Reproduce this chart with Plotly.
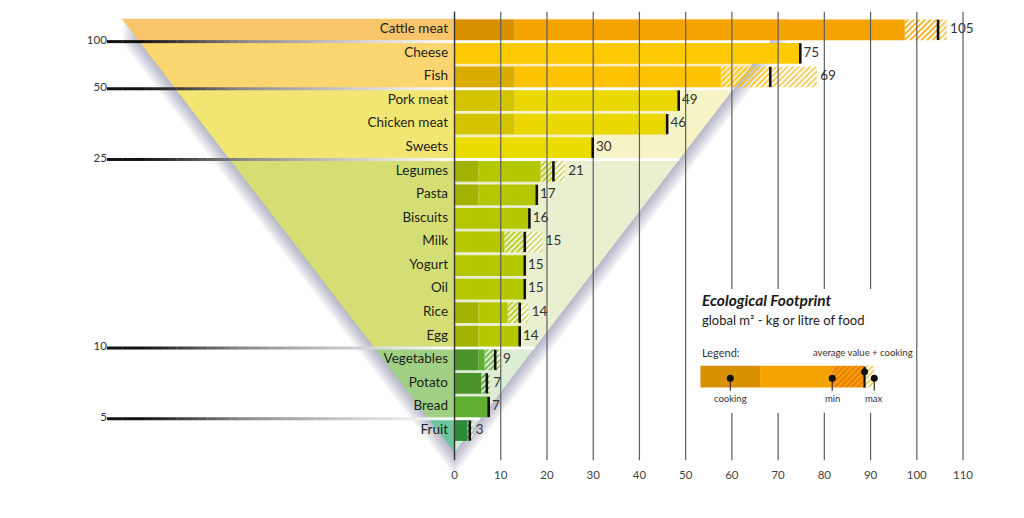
import plotly.graph_objects as go

# ---------------- data ----------------
foods = ["Cattle meat", "Cheese", "Fish", "Pork meat", "Chicken meat", "Sweets",
         "Legumes", "Pasta", "Biscuits", "Milk", "Yogurt", "Oil", "Rice", "Egg",
         "Vegetables", "Potato", "Bread", "Fruit"]
value_labels = [105, 75, 69, 49, 46, 30, 21, 17, 16, 15, 15, 15, 14, 14, 9, 7, 7, 3]
cooking = [13, 0, 13, 13, 13, 0, 5.2, 5.2, 0, 0, 0, 0, 5.2, 5.2, 5.2, 0, 0, 0]
min_val = [97.4, 74.8, 57.6, 48.5, 46.0, 29.9, 18.6, 17.8, 16.2, 10.8, 15.2, 15.2, 11.5, 14.1, 6.5, 5.8, 7.4, 2.8]
avg_val = [104.6, 74.8, 68.3, 48.5, 46.0, 29.9, 21.4, 17.8, 16.2, 15.2, 15.2, 15.2, 14.1, 14.1, 8.8, 7.0, 7.4, 3.3]
max_val = [106.5, 74.8, 78.4, 48.5, 46.0, 29.9, 23.9, 17.8, 16.2, 19.0, 15.2, 15.2, 16.0, 14.1, 9.8, 7.7, 7.4, 3.9]

ticks = [0, 10, 20, 30, 40, 50, 60, 70, 80, 90, 100, 110]
level_labels = ["100", "50", "25", "10", "5"]
level_rows = [0, 2, 5, 13, 16]          # level line lies just below these rows

legend_example = dict(start=53.2, cooking=66.1, min=81.7, avg=88.7, max=90.8)

title = "Ecological Footprint"
subtitle = "global m² - kg or litre of food"

# ---------------- styles ----------------
row_group = ["cattle", "cheese", "fish", "pork", "pork", "sweets",
             "lime", "lime", "lime", "lime", "lime", "lime", "lime", "lime",
             "veg", "potato", "bread", "fruit"]
ORG_H, ORG_L = "#E8700C", "#EEC64E"
LIM_H, LIM_L = "#5F7F10", "#CBD060"
GRN_H, GRN_L = "#22561A", "#8FB45E"
palette = {
    "cattle": dict(main="#F4A300", cook="#DA9100", hatch=ORG_H, light=ORG_L),
    "cheese": dict(main="#FDC900", cook="#E0B000", hatch=ORG_H, light=ORG_L),
    "fish":   dict(main="#FCC100", cook="#D9AD00", hatch=ORG_H, light=ORG_L),
    "pork":   dict(main="#EAD800", cook="#D3C300", hatch=ORG_H, light=ORG_L),
    "sweets": dict(main="#EBDC00", cook="#D3C300", hatch=ORG_H, light=ORG_L),
    "lime":   dict(main="#B5C700", cook="#A1B300", hatch=LIM_H, light=LIM_L),
    "veg":    dict(main="#5EAE36", cook="#4B932A", hatch=GRN_H, light=GRN_L),
    "potato": dict(main="#4B932A", cook="#4B932A", hatch=GRN_H, light=GRN_L),
    "bread":  dict(main="#5FAE2F", cook="#5FAE2F", hatch=GRN_H, light=GRN_L),
    "fruit":  dict(main="#2B8B38", cook="#2B8B38", hatch=GRN_H, light=GRN_L),
}
band_left = ["#F8C46C", "#FBD570", "#F2E672", "#D4DE74", "#9FD083", "#6DC39A"]
band_right = ["#FCE2B4", "#FDECB9", "#F6F3C6", "#EAF0CF", "#DDEDD3", "#D2EBDD"]
FONT = "Lato"
PAT = dict(shape="/", size=4, solidity=0.38, fillmode="replace")

rows = list(range(len(foods)))
col = lambda k: [palette[g][k] for g in row_group]

# axis geometry (figure spans whole page)
X0, X1 = -98.32, 123.19
Y1 = -1.266
Y0 = Y1 + 518 / 23.57
BW = 0.88

fig = go.Figure()

# ---------------- bars ----------------
fig.add_trace(go.Bar(orientation="h", y=rows, base=[0] * len(rows), x=cooking, width=BW,
                     marker=dict(color=col("cook"), line=dict(width=0)), hoverinfo="skip"))
fig.add_trace(go.Bar(orientation="h", y=rows, base=cooking,
                     x=[m - c for m, c in zip(min_val, cooking)], width=BW,
                     marker=dict(color=col("main"), line=dict(width=0)), hoverinfo="skip"))
fig.add_trace(go.Bar(orientation="h", y=rows, base=min_val,
                     x=[a - m for a, m in zip(avg_val, min_val)], width=BW,
                     marker=dict(color=col("main"), line=dict(width=0),
                                 pattern=dict(PAT, fgcolor=col("hatch"), bgcolor=col("main"))),
                     hoverinfo="skip"))
fig.add_trace(go.Bar(orientation="h", y=rows, base=avg_val,
                     x=[M - a for M, a in zip(max_val, avg_val)], width=BW,
                     marker=dict(color="white", line=dict(width=0),
                                 pattern=dict(PAT, fgcolor=col("light"), bgcolor="#FFFDF2")),
                     hoverinfo="skip"))

# legend example bar
ly = 14.71
le = legend_example
fig.add_trace(go.Bar(orientation="h", y=[ly], base=[le["start"]], x=[le["cooking"] - le["start"]],
                     width=0.92, marker=dict(color=palette["cattle"]["cook"], line=dict(width=0)),
                     hoverinfo="skip"))
fig.add_trace(go.Bar(orientation="h", y=[ly], base=[le["cooking"]], x=[le["min"] - le["cooking"]],
                     width=0.92, marker=dict(color=palette["cattle"]["main"], line=dict(width=0)),
                     hoverinfo="skip"))
fig.add_trace(go.Bar(orientation="h", y=[ly], base=[le["min"]], x=[le["avg"] - le["min"]],
                     width=0.92, marker=dict(color=palette["cattle"]["main"], line=dict(width=0),
                                             pattern=dict(PAT, fgcolor=ORG_H,
                                                          bgcolor=palette["cattle"]["main"])),
                     hoverinfo="skip"))
fig.add_trace(go.Bar(orientation="h", y=[ly], base=[le["avg"]], x=[le["max"] - le["avg"]],
                     width=0.92, marker=dict(color="white", line=dict(width=0),
                                             pattern=dict(PAT, fgcolor=ORG_L, bgcolor="#FFFDF2")),
                     hoverinfo="skip"))

# ---------------- gridlines (scatter, above bars) ----------------
g_top, g_bot = -0.77, 18.26
box_top, box_bot = 11.0, 16.25
gx, gy = [], []
for t in ticks:
    if 55 < t < 95:
        gx += [t, t, None, t, t, None]
        gy += [g_top, box_top, None, box_bot, g_bot, None]
    else:
        gx += [t, t, None]
        gy += [g_top, g_bot, None]
fig.add_trace(go.Scatter(x=gx, y=gy, mode="lines", line=dict(color="#5E5E5E", width=1.2),
                         hoverinfo="skip"))
fig.add_trace(go.Scatter(x=[0, 0], y=[g_top, g_bot], mode="lines",
                         line=dict(color="#333333", width=1.3), hoverinfo="skip"))

# average markers
fig.add_trace(go.Scatter(x=avg_val, y=rows, mode="markers",
                         marker=dict(symbol="line-ns", size=14.5, line=dict(width=2.6, color="#111111")),
                         hoverinfo="skip"))
# value labels
fig.add_trace(go.Scatter(x=[m + 0.7 for m in max_val], y=rows, mode="text",
                         text=[str(v) for v in value_labels],
                         textposition="middle right", textfont=dict(family=FONT, size=13.5, color="#333333"),
                         hoverinfo="skip"))
# category labels
fig.add_trace(go.Scatter(x=[-1.4] * len(rows), y=rows, mode="text", text=foods,
                         textposition="middle left", textfont=dict(family=FONT, size=13.5, color="#1E1E1E"),
                         hoverinfo="skip"))
# x tick labels
fig.add_trace(go.Scatter(x=ticks, y=[18.95] * len(ticks), mode="text", text=[str(t) for t in ticks],
                         textposition="middle center", textfont=dict(family=FONT, size=11.5, color="#444444"),
                         hoverinfo="skip"))
# level labels
fig.add_trace(go.Scatter(x=[-75.2] * len(level_rows), y=[r + 0.47 for r in level_rows], mode="text",
                         text=level_labels, textposition="middle left",
                         textfont=dict(family=FONT, size=11.5, color="#333333"), hoverinfo="skip"))

# legend example markers
cook_dot = (le["start"] + le["cooking"]) / 2
fig.add_trace(go.Scatter(x=[le["avg"], le["avg"]], y=[ly - 0.42, ly + 0.47], mode="lines",
                         line=dict(color="#111111", width=2.2), hoverinfo="skip"))
stem_x, stem_y = [], []
for xv in [cook_dot, le["min"], le["max"]]:
    stem_x += [xv, xv, None]
    stem_y += [ly + 0.07, ly + 0.6, None]
fig.add_trace(go.Scatter(x=stem_x, y=stem_y, mode="lines", line=dict(color="#111111", width=1),
                         hoverinfo="skip"))
fig.add_trace(go.Scatter(x=[cook_dot, le["min"], le["avg"], le["max"]],
                         y=[ly + 0.07, ly + 0.07, ly - 0.2, ly + 0.07], mode="markers",
                         marker=dict(color="#111111", size=7), hoverinfo="skip"))

# ---------------- background shapes ----------------
y_top, y_apex, half_top = -0.47, 17.92, 72.0


def half(y):
    return half_top * (y_apex - y) / (y_apex - y_top)


shapes = []
# shadow
for i in range(1, 11):
    d = 0.1 * i
    shapes.append(dict(type="path", layer="below", xref="x", yref="y", line=dict(width=0),
                       fillcolor="rgba(80,80,110,0.042)",
                       path=f"M {-half_top},{y_top + d} L {half_top},{y_top + d} L 0,{y_apex + d} Z"))
bounds = [y_top] + [r + 0.5 for r in level_rows] + [y_apex]
for b in range(len(bounds) - 1):
    ya, yb = bounds[b], bounds[b + 1]
    shapes.append(dict(type="path", layer="below", xref="x", yref="y", line=dict(width=0),
                       fillcolor=band_left[b],
                       path=f"M {-half(ya)},{ya} L 0,{ya} L 0,{yb} L {-half(yb)},{yb} Z"))
    shapes.append(dict(type="path", layer="below", xref="x", yref="y", line=dict(width=0),
                       fillcolor=band_right[b],
                       path=f"M 0,{ya} L {half(ya)},{ya} L {half(yb)},{yb} L 0,{yb} Z"))
# level separator lines
N = 45
for r in level_rows:
    yl = r + 0.5
    shapes.append(dict(type="line", layer="below", xref="x", yref="y", x0=0, x1=half(yl), y0=yl, y1=yl,
                       line=dict(color="white", width=3)))
    for s in range(N):
        t0, t1 = s / N, (s + 1) / N
        tm = (t0 + t1) / 2
        if tm < 0.1:
            g = 17
        elif tm < 0.4:
            g = 17 + (140 - 17) * (tm - 0.1) / 0.3
        elif tm < 0.75:
            g = 140 + (215 - 140) * (tm - 0.4) / 0.35
        else:
            g = 215 + (255 - 215) * (tm - 0.75) / 0.25
        g = int(g)
        xa = -75.2 + 75.2 * t0
        xb = -75.2 + 75.2 * t1
        shapes.append(dict(type="line", layer="below", xref="x", yref="y", x0=xa, x1=xb + 0.05,
                           y0=yl, y1=yl, line=dict(color=f"rgb({g},{g},{g})", width=3)))

# ---------------- legend texts ----------------
ann = [
    dict(x=le["start"], y=11.48, text=f"<b><i>{title}</i></b>", xanchor="left", yanchor="middle",
         font=dict(family=FONT, size=15.5, color="#1A1A1A")),
    dict(x=le["start"], y=12.33, text=subtitle, xanchor="left", yanchor="middle",
         font=dict(family=FONT, size=13, color="#1A1A1A")),
    dict(x=le["start"], y=13.67, text="Legend:", xanchor="left", yanchor="middle",
         font=dict(family=FONT, size=11, color="#333333")),
    dict(x=le["avg"] - 0.4, y=13.67, text="average value + cooking", xanchor="center", yanchor="middle",
         font=dict(family=FONT, size=9.5, color="#333333")),
    dict(x=cook_dot, y=15.65, text="cooking", xanchor="center", yanchor="middle",
         font=dict(family=FONT, size=9.5, color="#333333")),
    dict(x=le["min"], y=15.65, text="min", xanchor="center", yanchor="middle",
         font=dict(family=FONT, size=9.5, color="#333333")),
    dict(x=le["max"], y=15.65, text="max", xanchor="center", yanchor="middle",
         font=dict(family=FONT, size=9.5, color="#333333")),
]
for a in ann:
    a.update(xref="x", yref="y", showarrow=False)

fig.update_layout(
    width=1024, height=518, margin=dict(l=0, r=0, t=0, b=0),
    paper_bgcolor="white", plot_bgcolor="white", showlegend=False,
    barmode="overlay", shapes=shapes, annotations=ann,
    xaxis=dict(range=[X0, X1], visible=False, fixedrange=True),
    yaxis=dict(range=[Y0, Y1], visible=False, fixedrange=True),
)

fig.write_html("out.html", config={"displayModeBar": False},
               post_script="document.body.style.margin='0';document.body.style.overflow='hidden';")
